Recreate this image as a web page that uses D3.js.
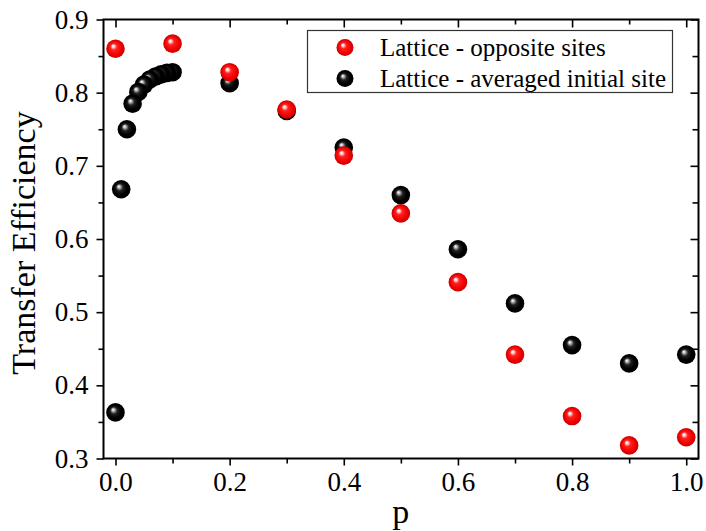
<!DOCTYPE html>
<html>
<head>
<meta charset="utf-8">
<script src="https://cdn.jsdelivr.net/npm/d3@7"></script>
<style>
  body { margin: 0; background: #fff; }
  svg text { font-family: "Liberation Serif", "Times New Roman", serif; fill: #000; }
</style>
</head>
<body>
<div id="chart"></div>
<script>
// data
var pOpposite = [0, 0.1, 0.2, 0.3, 0.4, 0.5, 0.6, 0.7, 0.8, 0.9, 1.0];
var effOpposite = [0.860, 0.867, 0.828, 0.777, 0.714, 0.635, 0.541, 0.442, 0.358, 0.318, 0.329];

var pAveraged = [0, 0.01, 0.02, 0.03, 0.04, 0.05, 0.06, 0.07, 0.08, 0.09, 0.1,
                 0.2, 0.3, 0.4, 0.5, 0.6, 0.7, 0.8, 0.9, 1.0];
var effAveraged = [0.363, 0.668, 0.750, 0.785, 0.801, 0.811, 0.818, 0.822, 0.825, 0.827, 0.828,
                   0.813, 0.775, 0.725, 0.660, 0.586, 0.512, 0.455, 0.430, 0.442];

var xMajor = [0, 0.2, 0.4, 0.6, 0.8, 1.0];
var xMinor = [0.1, 0.3, 0.5, 0.7, 0.9];
var yMajor = [0.3, 0.4, 0.5, 0.6, 0.7, 0.8, 0.9];
var yMinor = [0.35, 0.45, 0.55, 0.65, 0.75, 0.85];

var seriesNames = ["Lattice - opposite sites", "Lattice - averaged initial site"];

// plot box (window.top is read-only, so no bare "top" here)
var W = 706, H = 531;
var box = {left: 103.5, right: 698.5, top: 19.5, bottom: 458.5};
var R = 9.3;

var svg = d3.select("#chart")
  .append("svg")
    .attr("width", W)
    .attr("height", H);

// sphere-like fills
var defs = svg.append("defs");
function ball(id, stops) {
  var g = defs.append("radialGradient")
      .attr("id", id)
      .attr("cx", 0.5).attr("cy", 0.5).attr("r", 0.5)
      .attr("fx", 0.36).attr("fy", 0.34);
  stops.forEach(function(s) {
    g.append("stop").attr("offset", s[0]).attr("stop-color", s[1]);
  });
}
ball("redBall", [[0, "#ffffff"], [0.12, "#ffe0e0"], [0.35, "#ff2020"], [0.75, "#f00000"], [1, "#c80000"]]);
ball("blackBall", [[0, "#ffffff"], [0.1, "#d8d8d8"], [0.38, "#202020"], [0.7, "#000000"], [1, "#000000"]]);

var x = d3.scaleLinear()
  .domain([-0.021, 1.0215])
  .range([box.left, box.right]);
var y = d3.scaleLinear()
  .domain([0.3, 0.9])
  .range([box.bottom, box.top]);

var fmt = d3.format(".1f");

function styleAxis(g) {
  g.select(".domain").remove();
  g.selectAll(".tick line").attr("stroke", "#000").attr("stroke-width", 1.6);
  g.selectAll(".tick text")
    .style("font-family", '"Liberation Serif", "Times New Roman", serif')
    .style("font-size", "27px");
}

// bottom axis
svg.append("g")
  .attr("transform", "translate(0," + box.bottom + ")")
  .call(d3.axisBottom(x).tickValues(xMajor).tickSize(7).tickPadding(6).tickFormat(fmt))
  .call(styleAxis);
svg.append("g")
  .attr("transform", "translate(0," + box.bottom + ")")
  .call(d3.axisBottom(x).tickValues(xMinor).tickSize(5).tickFormat(""))
  .call(styleAxis);

// top axis, ticks inside
svg.append("g")
  .attr("transform", "translate(0," + box.top + ")")
  .call(d3.axisTop(x).tickValues(xMajor).tickSize(-8).tickFormat(""))
  .call(styleAxis);
svg.append("g")
  .attr("transform", "translate(0," + box.top + ")")
  .call(d3.axisTop(x).tickValues(xMinor).tickSize(-5).tickFormat(""))
  .call(styleAxis);

// left axis
svg.append("g")
  .attr("transform", "translate(" + box.left + ",0)")
  .call(d3.axisLeft(y).tickValues(yMajor).tickSize(7).tickPadding(8).tickFormat(fmt))
  .call(styleAxis);
svg.append("g")
  .attr("transform", "translate(" + box.left + ",0)")
  .call(d3.axisLeft(y).tickValues(yMinor).tickSize(5).tickFormat(""))
  .call(styleAxis);

// right axis, ticks inside
svg.append("g")
  .attr("transform", "translate(" + box.right + ",0)")
  .call(d3.axisRight(y).tickValues(yMajor).tickSize(-8).tickFormat(""))
  .call(styleAxis);
svg.append("g")
  .attr("transform", "translate(" + box.right + ",0)")
  .call(d3.axisRight(y).tickValues(yMinor).tickSize(-6).tickFormat(""))
  .call(styleAxis);

// frame
svg.append("rect")
  .attr("x", box.left).attr("y", box.top)
  .attr("width", box.right - box.left).attr("height", box.bottom - box.top)
  .attr("fill", "none")
  .attr("stroke", "#000")
  .attr("stroke-width", 2);

// axis titles
svg.append("text")
  .attr("x", x(0.5))
  .attr("y", 523)
  .attr("text-anchor", "middle")
  .style("font-size", "34px")
  .text("p");

svg.append("text")
  .attr("transform", "translate(35," + ((box.top + box.bottom) / 2 + 4) + ") rotate(-90)")
  .attr("text-anchor", "middle")
  .style("font-size", "34px")
  .text("Transfer Efficiency");

// points: black series first (reverse order so lower p sits on top), red on top
var blackPts = pAveraged.map(function(p, i) { return {p: p, v: effAveraged[i]}; }).reverse();
var redPts = pOpposite.map(function(p, i) { return {p: p, v: effOpposite[i]}; });

svg.append("g").selectAll("circle")
  .data(blackPts)
  .join("circle")
    .attr("cx", function(d) { return x(d.p); })
    .attr("cy", function(d) { return y(d.v); })
    .attr("r", R)
    .attr("fill", "url(#blackBall)");

svg.append("g").selectAll("circle")
  .data(redPts)
  .join("circle")
    .attr("cx", function(d) { return x(d.p); })
    .attr("cy", function(d) { return y(d.v); })
    .attr("r", R)
    .attr("fill", "url(#redBall)");

// legend
var legend = svg.append("g");
legend.append("rect")
  .attr("x", 307.5).attr("y", 30.5)
  .attr("width", 365).attr("height", 62)
  .attr("fill", "#fff")
  .attr("stroke", "#333")
  .attr("stroke-width", 1.2);

var legendRows = [
  {name: seriesNames[0], fill: "url(#redBall)", cy: 47.5},
  {name: seriesNames[1], fill: "url(#blackBall)", cy: 78.5}
];
legendRows.forEach(function(r) {
  legend.append("circle")
    .attr("cx", 345).attr("cy", r.cy).attr("r", 8.5)
    .attr("fill", r.fill);
  legend.append("text")
    .attr("x", 380).attr("y", r.cy + 8)
    .style("font-size", "25px")
    .text(r.name);
});
</script>
</body>
</html>
